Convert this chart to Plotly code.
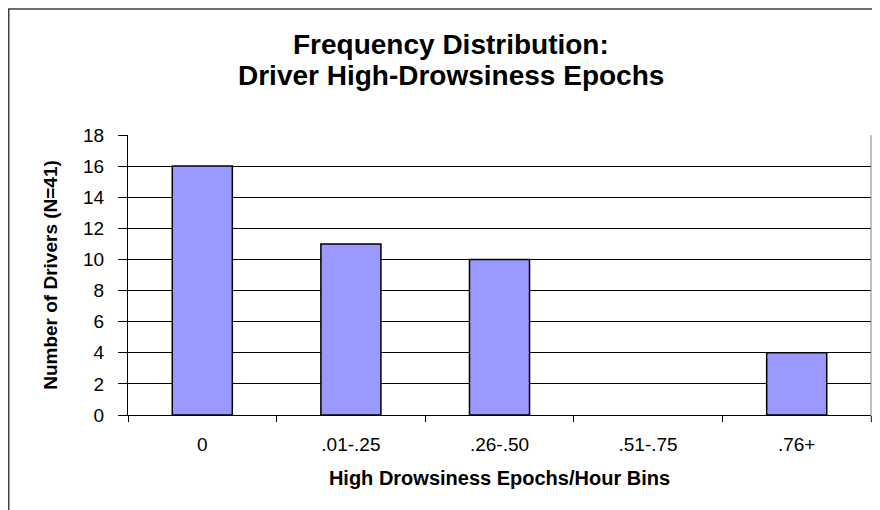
import plotly.graph_objects as go

categories = ["0", ".01-.25", ".26-.50", ".51-.75", ".76+"]
drivers = [16, 11, 10, 0, 4]
y_ticks = [0, 2, 4, 6, 8, 10, 12, 14, 16, 18]
title_lines = ["Frequency Distribution:", "Driver High-Drowsiness Epochs"]

FONT = "Liberation Sans, Arial, sans-serif"

fig = go.Figure()
fig.add_trace(go.Bar(
    x=categories, y=drivers,
    marker=dict(color="#9999FF",
                line=dict(color="black",
                          width=[1.5 if v > 0 else 0 for v in drivers])),
    width=0.404,
    hoverinfo="x+y",
))

# the page body adds an 8px offset, so layout is laid out 8px up/left
OFF = 8
W, H = 880, 510
L, R, T, B = 128 - OFF, W - 871 + OFF, 135 - OFF, H - 415 + OFF
PW, PH = W - L - R, H - T - B


def px_x(x):  # screenshot x -> paper
    return (x - OFF - L) / PW


def px_y(y):  # screenshot y -> paper
    return (H - B - (y - OFF)) / PH


fig.update_layout(
    width=W, height=H,
    margin=dict(l=L, r=R, t=T, b=B),
    paper_bgcolor="white", plot_bgcolor="white",
    showlegend=False,
    font=dict(family=FONT, color="black"),
    xaxis=dict(
        type="category",
        tickson="boundaries",
        ticks="outside", ticklen=6, tickcolor="black", tickwidth=1,
        showline=True, linecolor="black", linewidth=1,
        showgrid=False,
        tickfont=dict(size=19, family=FONT),
        ticklabelstandoff=12,
        title=dict(text="<b>High Drowsiness Epochs/Hour Bins</b>",
                   font=dict(size=20, family=FONT), standoff=17),
    ),
    yaxis=dict(
        range=[0, 18], tickvals=y_ticks,
        ticks="outside", ticklen=9, tickcolor="black",
        showline=True, linecolor="black", linewidth=1,
        showgrid=True, gridcolor="black", gridwidth=1,
        zeroline=False,
        tickfont=dict(size=19, family=FONT),
        ticklabelstandoff=10,
        title=dict(text="<b>Number of Drivers (N=41)</b>",
                   font=dict(size=19, family=FONT), standoff=20),
    ),
    annotations=[
        dict(text="<b>%s</b>" % title_lines[0],
             xref="paper", yref="paper",
             x=px_x(451), xanchor="center",
             y=px_y(44), yanchor="middle",
             showarrow=False,
             font=dict(size=28, family=FONT, color="black")),
        dict(text="<b>%s</b>" % title_lines[1],
             xref="paper", yref="paper",
             x=px_x(451), xanchor="center",
             y=px_y(75), yanchor="middle",
             showarrow=False,
             font=dict(size=28, family=FONT, color="black")),
    ],
    shapes=[
        # outer chart border (runs off the page on right/bottom)
        dict(type="rect", xref="paper", yref="paper",
             x0=px_x(8.75), x1=px_x(W + 20),
             y0=px_y(H + 20), y1=px_y(9),
             line=dict(color="#404040", width=1.5), layer="below"),
        # right plot-area border
        dict(type="line", xref="paper", yref="paper",
             x0=1, x1=1, y0=px_y(421), y1=1,
             line=dict(color="#808080", width=1)),
    ],
)

fig.write_html("out.html")
